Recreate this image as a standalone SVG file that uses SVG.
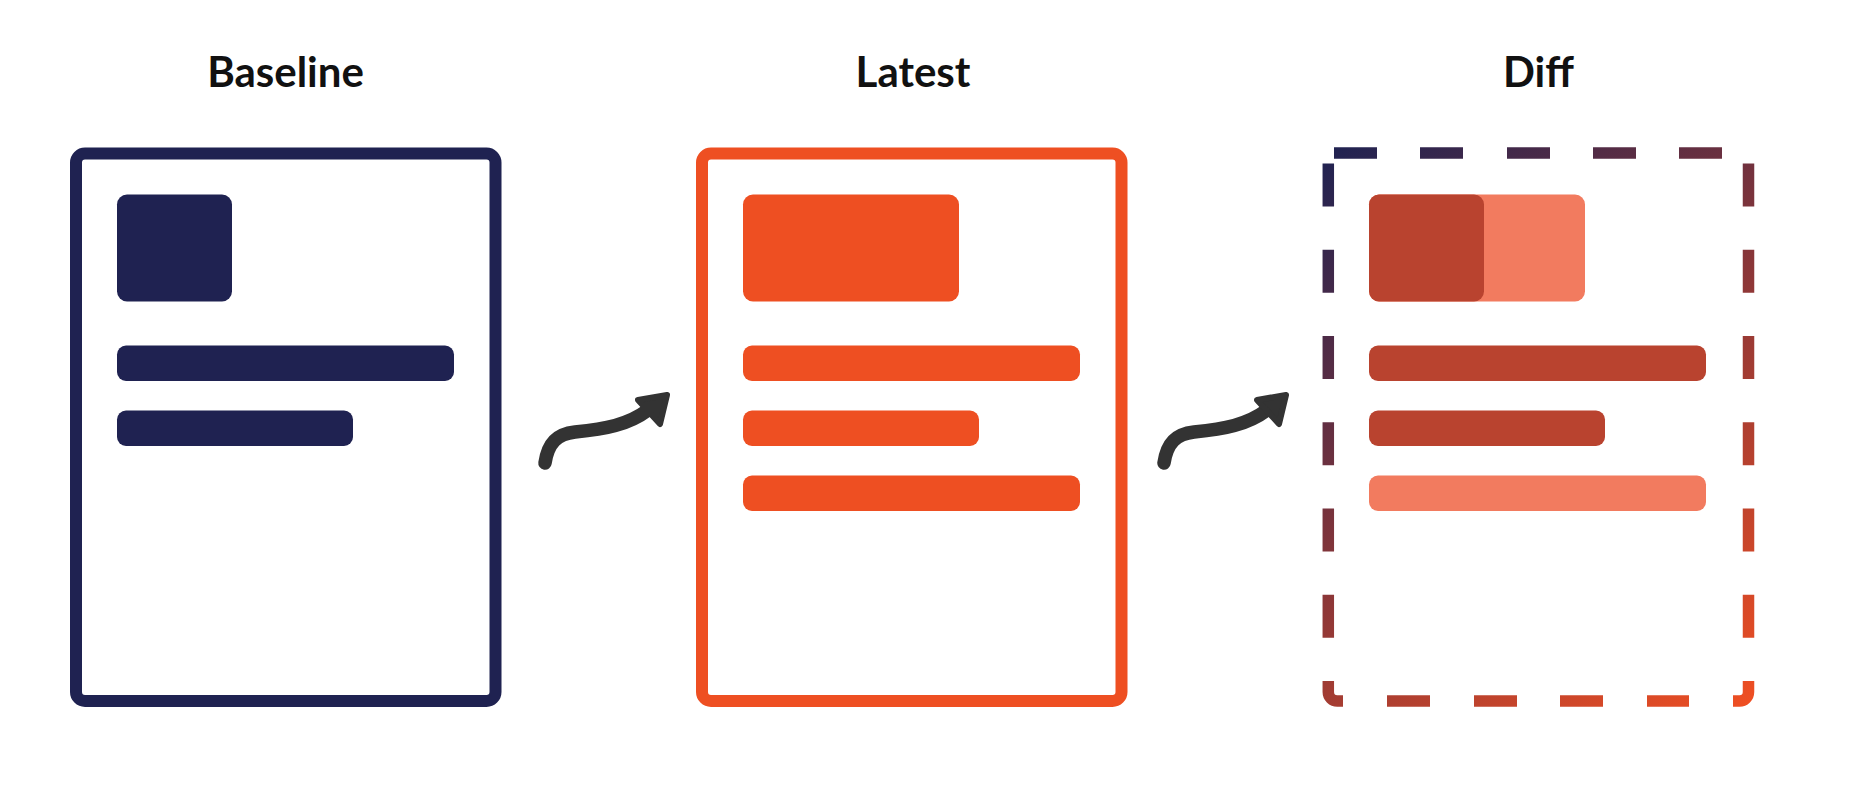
<svg xmlns="http://www.w3.org/2000/svg" width="1856" height="790" viewBox="0 0 1856 790">
<style>
.title{font-family:Lato,"Liberation Sans",sans-serif;font-weight:700;font-size:42px;fill:#111;text-anchor:middle}
.frame{fill:none;stroke-width:12}
.navy{fill:#1F2251}
.orange{fill:#EE4F22}
.dark{fill:#B9432F}
.light{fill:#F27B5F}
.arrow{fill:none;stroke:#333;stroke-width:13.5;stroke-linecap:round}
</style>
<defs>
<linearGradient id="dg" gradientUnits="userSpaceOnUse" x1="1323" y1="147" x2="1754" y2="707">
<stop offset="0" stop-color="#1E2252"/>
<stop offset="0.5" stop-color="#8A3638"/>
<stop offset="1" stop-color="#F04F22"/>
</linearGradient>
</defs>
<rect width="1856" height="790" fill="#fff"/>
<g id="baseline">
<text class="title" x="285.5" y="87">Baseline</text>
<rect class="frame" x="76" y="153.5" width="419.5" height="547.5" rx="9" stroke="#1F2251"/>
<rect class="navy" x="117" y="194.5" width="115" height="107" rx="10"/>
<rect class="navy" x="117" y="345.5" width="337" height="35.5" rx="9"/>
<rect class="navy" x="117" y="410.5" width="236" height="35.5" rx="9"/>
</g>
<g id="latest">
<text class="title" x="913" y="87">Latest</text>
<rect class="frame" x="702" y="153.5" width="419.5" height="547.5" rx="9" stroke="#EE4F22"/>
<rect class="orange" x="743" y="194.5" width="216" height="107" rx="10"/>
<rect class="orange" x="743" y="345.5" width="337" height="35.5" rx="9"/>
<rect class="orange" x="743" y="410.5" width="236" height="35.5" rx="9"/>
<rect class="orange" x="743" y="475.5" width="337" height="35.5" rx="9"/>
</g>
<g id="diff">
<text class="title" x="1538.5" y="87">Diff</text>
<path fill="none" stroke="url(#dg)" stroke-width="11.5" d="M1334 153H1377M1420 153H1463M1507 153H1550M1593 153H1636M1679 153H1722
M1328.3 163.5V206.5M1328.3 249.8V292.8M1328.3 336V379M1328.3 422.3V465.3M1328.3 508.5V551.5M1328.3 594.8V637.8
M1748.5 163.5V206.5M1748.5 249.8V292.8M1748.5 336V379M1748.5 422.3V465.3M1748.5 508.5V551.5M1748.5 594.8V637.8
M1328.3 681V692A9 9 0 0 0 1337.3 701H1343
M1387 701H1430M1474 701H1517M1560 701H1603M1647 701H1689
M1733 701H1739.5A9 9 0 0 0 1748.5 692V681"/>
<rect class="light" x="1369" y="194.5" width="216" height="107" rx="10"/>
<rect class="dark" x="1369" y="194.5" width="115" height="107" rx="10"/>
<rect class="dark" x="1369" y="345.5" width="337" height="35.5" rx="9"/>
<rect class="dark" x="1369" y="410.5" width="236" height="35.5" rx="9"/>
<rect class="light" x="1369" y="475.5" width="337" height="35.5" rx="9"/>
</g>
<g id="connectors">
<path class="arrow" d="M545 463 C548 443 557 434 575 432 C605 429 628 425 648 410"/>
<path d="M667 395 L638 400 L660 424 Z" fill="#333333" stroke="#333333" stroke-width="6" stroke-linejoin="round"/>
<path class="arrow" d="M1164 463 C1167 443 1176 434 1194 432 C1224 429 1247 425 1267 410"/>
<path d="M1286 395 L1257 400 L1279 424 Z" fill="#333333" stroke="#333333" stroke-width="6" stroke-linejoin="round"/>
</g>
</svg>
